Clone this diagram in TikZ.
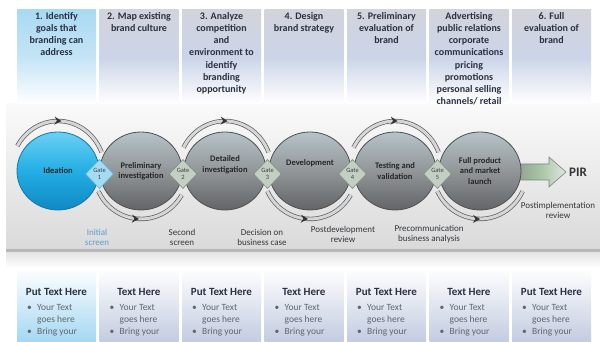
\documentclass[tikz,border=0pt]{standalone}
\usepackage{fontspec}
\setmainfont{Carlito}
\usetikzlibrary{shapes.geometric,decorations.markings,arrows.meta}
\definecolor{topText}{HTML}{2A3142}
\definecolor{colTopG}{HTML}{D3D4DB}
\definecolor{colMidG}{HTML}{CBD4E8}
\definecolor{colTopB}{HTML}{A9DAF3}
\definecolor{colMidB}{HTML}{C4E4F6}
\definecolor{botG}{HTML}{C2CBE0}
\definecolor{botB}{HTML}{A4D7F2}
\definecolor{bandTop}{HTML}{FAFAFA}
\definecolor{bandBot}{HTML}{DADADA}
\definecolor{stripGray}{HTML}{B8B8B8}
\definecolor{ballTop}{HTML}{B6C3C8}
\definecolor{ballMid}{HTML}{929698}
\definecolor{ballBot}{HTML}{626466}
\definecolor{ballLine}{HTML}{4E5052}
\definecolor{ideaTop}{HTML}{6CD0F4}
\definecolor{ideaMid}{HTML}{22AEE4}
\definecolor{ideaBot}{HTML}{1088C4}
\definecolor{ideaLine}{HTML}{1676A8}
\definecolor{gateFill}{HTML}{C3CFC3}
\definecolor{gateLine}{HTML}{7F907F}
\definecolor{gateBFill}{HTML}{A6DCF2}
\definecolor{gateBLine}{HTML}{5FB6DC}
\definecolor{arcDark}{HTML}{5A5C5E}
\definecolor{arcLight}{HTML}{D6D6D6}
\definecolor{labText}{HTML}{33363A}
\definecolor{labBlue}{HTML}{5A9ED2}
\definecolor{bulText}{HTML}{62666E}
\definecolor{arrL}{HTML}{8D9891}
\definecolor{arrM}{HTML}{A5C4A1}
\definecolor{arrR}{HTML}{E0E6E0}
\definecolor{arrLine}{HTML}{7A867C}
\begin{document}
\begin{tikzpicture}[x=1pt,y=1pt,
  toptext/.style={anchor=north,align=center,inner sep=0pt,text=topText,font=\fontsize{10}{12.2}\selectfont\bfseries},
  ball/.style={ellipse,minimum width=82pt,minimum height=78pt,inner sep=0pt,draw=ballLine,line width=0.8pt,
     top color=ballTop,bottom color=ballBot,middle color=ballMid,align=center,text=black!85,
     font=\fontsize{8.5}{10.5}\selectfont\bfseries},
  gatebox/.style={diamond,minimum width=28pt,minimum height=29pt,inner sep=0pt,fill=gateFill,draw=gateLine,
     line width=0.6pt,align=center,text=black!75,font=\fontsize{6.5}{7.5}\selectfont},
  arcband/.style={draw=arcDark,line width=0.7pt,double=arcLight,double distance=3pt,
     postaction={decorate,decoration={markings,mark=at position 0.5 with {\arrow[black!80]{Stealth[length=7pt,width=8pt,inset=2.5pt]}}}}},
  lbl/.style={align=center,inner sep=0pt,text=labText,font=\fontsize{9}{10}\selectfont},
  btitle/.style={inner sep=0pt,text=topText,font=\fontsize{11}{13}\selectfont\bfseries},
  btext/.style={anchor=base west,inner sep=0pt,text=bulText,font=\fontsize{9.5}{12}\selectfont},
  bdot/.style={anchor=base east,inner sep=0pt,text=bulText,font=\fontsize{9.5}{12}\selectfont}
]
\useasboundingbox (0,0) rectangle (600,342);
\fill[white] (0,0) rectangle (600,342);

% middle band
\shade[top color=bandTop,bottom color=bandBot] (6,93) rectangle (600,238);
\fill[stripGray] (6,89) rectangle (600,93);
\shade[top color=black!10,bottom color=white] (6,74) rectangle (600,89);

% top columns
\shade[top color=colTopB,bottom color=white,middle color=colMidB] (17,238) rectangle (96,332);
\foreach \i in {1,...,6}{
  \pgfmathsetmacro\xa{17+82.5*\i}
  \shade[top color=colTopG,bottom color=white,middle color=colMidG] (\xa,238) rectangle (\xa+79,332);
}
% bottom columns
\shade[top color=white,bottom color=botB] (17,0) rectangle (96,74);
\foreach \i in {1,...,6}{
  \pgfmathsetmacro\xa{17+82.5*\i}
  \shade[top color=white,bottom color=botG] (\xa,0) rectangle (\xa+79,74);
}

% top column texts
\node[toptext] (t1) at (56.5,330) {1. Identify\\goals that\\branding can\\address};
\node[toptext] (t2) at (139,330) {2. Map existing\\brand culture};
\node[toptext] (t3) at (221.5,330) {3. Analyze\\competition\\and\\environment to\\identify\\branding\\opportunity};
\node[toptext] (t4) at (304,330) {4. Design\\brand strategy};
\node[toptext] (t5) at (386.5,330) {5. Preliminary\\evaluation of\\brand};
\node[toptext] (t6) at (469,330) {Advertising\\public relations\\corporate\\communications\\pricing\\promotions\\personal selling\\channels/ retail};
\node[toptext] (t7) at (551.5,330) {6. Full\\evaluation of\\brand};

% bottom column texts
\foreach \i/\ttl in {0/Put Text Here,1/Text Here,2/Put Text Here,3/Text Here,4/Put Text Here,5/Text Here,6/Put Text Here}{
  \pgfmathsetmacro\xa{17+82.5*\i}
  \node[btitle] (bt\i) at (\xa+39.5,50) {\ttl};
  \node[bdot] (bd\i a) at (\xa+15,31) {•};
  \node[btext] (bx\i a) at (\xa+20,31) {Your Text};
  \node[btext] (bx\i b) at (\xa+20,19) {goes here};
  \node[bdot] (bd\i c) at (\xa+15,7) {•};
  \node[btext] (bx\i c) at (\xa+20,7) {Bring your};
}

% circle centres (coordinates for arcs)
\coordinate (k1) at (58,171);
\coordinate (k2) at (141,171);
\coordinate (k3) at (225,171);
\coordinate (k4) at (310,171);
\coordinate (k5) at (395,171);
\coordinate (k6) at (480,171);

% arcs
\draw[arcband] ([shift={(150:47 and 50)}]k1) arc[start angle=150,end angle=22,x radius=47,y radius=50];
\draw[arcband] ([shift={(152:47 and 50)}]k3) arc[start angle=152,end angle=22,x radius=47,y radius=50];
\draw[arcband] ([shift={(152:47 and 50)}]k5) arc[start angle=152,end angle=22,x radius=47,y radius=50];
\draw[arcband] ([shift={(205:47 and 48)}]k2) arc[start angle=205,end angle=330,x radius=47,y radius=48];
\draw[arcband] ([shift={(205:47 and 48)}]k4) arc[start angle=205,end angle=330,x radius=47,y radius=48];
\draw[arcband] ([shift={(205:47 and 48)}]k6) arc[start angle=205,end angle=335,x radius=47,y radius=48];

% PIR arrow
\shade[left color=arrL,right color=arrR,middle color=arrM,draw=arrLine,line width=0.6pt]
  (512,178) -- (549,178) -- (549,185) -- (566,170) -- (549,155) -- (549,162) -- (512,162) -- cycle;
\node[inner sep=0pt,text=black!80,font=\fontsize{13}{13}\selectfont\bfseries] (pir) at (578,170) {PIR};

% circles
\node[ball,top color=ideaTop,bottom color=ideaBot,middle color=ideaMid,draw=ideaLine] (c1) at (k1) {Ideation};
\node[ball] (c2) at (k2) {Preliminary\\investigation};
\node[ball] (c3) at (k3) {Detailed\\investigation\\[3pt]};
\node[ball] (c4) at (k4) {Development\\[6pt]};
\node[ball] (c5) at (k5) {Testing and\\validation};
\node[ball] (c6) at (k6) {Full product\\and market\\launch};

% gates
\node[gatebox,fill=gateBFill,draw=gateBLine] (g1) at (99.5,168) {Gate\\1};
\node[gatebox] (g2) at (183,168) {Gate\\2};
\node[gatebox] (g3) at (267.5,168) {Gate\\3};
\node[gatebox] (g4) at (352.5,168) {Gate\\4};
\node[gatebox] (g5) at (437.5,168) {Gate\\5};

% labels
\node[lbl,text=labBlue] (l1) at (97,105) {Initial\\screen};
\node[lbl] (l2) at (182,105) {Second\\screen};
\node[lbl] (l3) at (262,105) {Decision on\\business case};
\node[lbl] (l4) at (343,108) {Postdevelopment\\review};
\node[lbl] (l5) at (429,108) {Precommunication\\business analysis};
\node[lbl] (l6) at (558,132) {Postimplementation\\review};
\end{tikzpicture}
\end{document}
